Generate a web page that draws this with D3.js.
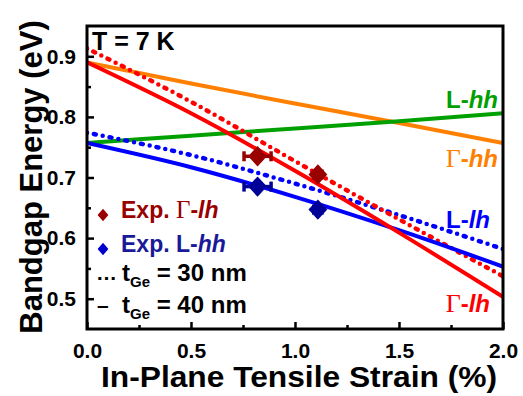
<!DOCTYPE html>
<html>
<head>
<meta charset="utf-8">
<script src="https://cdn.jsdelivr.net/npm/d3@7"></script>
<style>
  body { margin: 0; background: #fff; }
  svg text { font-family: "Liberation Sans", Arial, sans-serif; font-weight: bold; }
</style>
</head>
<body>
<svg id="chart" width="523" height="396"></svg>
<script>
// strain (%) sample points for the calculated curves
const strain = [0, 0.5, 1.0, 1.5, 2.0];
const gammaHH = [0.89, 0.855, 0.822, 0.79, 0.757];
const lHH = [0.757, 0.769, 0.781, 0.793, 0.806];
const gammaLH40 = [0.89, 0.806, 0.711, 0.609, 0.503];
const gammaLH30 = [0.913, 0.825, 0.727, 0.631, 0.537];
const lLH40 = [0.757, 0.717, 0.668, 0.613, 0.553];
const lLH30 = [0.774, 0.737, 0.69, 0.638, 0.582];

// experimental points: strain, energy, strain error
const expGammaLH = [[0.82, 0.735, 0.065], [1.11, 0.705, 0.02]];
const expLHH = [[0.82, 0.685, 0.065], [1.11, 0.647, 0.02]];

const xTicks = [0, 0.5, 1.0, 1.5, 2.0];
const yTicks = [0.5, 0.6, 0.7, 0.8, 0.9];

const svg = d3.select('#chart');
const pLeft = 87, pRight = 503, pTop = 26, pBottom = 329;

const x = d3.scaleLinear().domain([0, 2]).range([pLeft, pRight]);
const y = d3.scaleLinear().domain([0.45, 0.95]).range([pBottom, pTop]);

const line = d3.line()
  .x(d => x(d[0]))
  .y(d => y(d[1]))
  .curve(d3.curveMonotoneX);

const dotted = '0,7,2,7';
const curves = [
  { v: gammaHH, color: '#ff8000', dash: null },
  { v: lHH, color: '#00a000', dash: null },
  { v: lLH30, color: '#0000ff', dash: dotted },
  { v: gammaLH30, color: '#ff0000', dash: dotted },
  { v: lLH40, color: '#0000ff', dash: null },
  { v: gammaLH40, color: '#ff0000', dash: null },
];

const plot = svg.append('g');
plot.append('clipPath').attr('id', 'clip')
  .append('rect').attr('x', pLeft).attr('y', pTop).attr('width', pRight - pLeft).attr('height', pBottom - pTop);

const lines = plot.append('g').attr('clip-path', 'url(#clip)');
curves.forEach(c => {
  lines.append('path')
    .datum(strain.map((s, i) => [s, c.v[i]]))
    .attr('fill', 'none')
    .attr('stroke', c.color)
    .attr('stroke-width', c.dash ? 4.5 : 4)
    .attr('stroke-linecap', c.dash ? 'round' : 'butt')
    .attr('stroke-dasharray', c.dash)
    .attr('d', line);
});

// experimental points
const diamond = d3.symbol().type(d3.symbolDiamond);
function drawExp(data, color) {
  const g = plot.append('g');
  data.forEach(d => {
    const cx = x(d[0]), cy = y(d[1]);
    const x0 = x(d[0] - d[2]), x1 = x(d[0] + d[2]);
    g.append('line').attr('x1', x0).attr('x2', x1).attr('y1', cy).attr('y2', cy)
      .attr('stroke', color).attr('stroke-width', 3.5);
    [x0, x1].forEach(xx => g.append('line')
      .attr('x1', xx).attr('x2', xx).attr('y1', cy - 5).attr('y2', cy + 5)
      .attr('stroke', color).attr('stroke-width', 3.5));
    g.append('path').attr('d', diamond.size(120)())
      .attr('transform', `translate(${cx},${cy}) scale(1.6,1)`)
      .attr('fill', color);
  });
}
drawExp(expGammaLH, '#990000');
drawExp(expLHH, '#000099');

// axes with inward ticks
const xAxis = svg.append('g').attr('transform', `translate(0,${pBottom})`)
  .call(d3.axisBottom(x).tickValues(xTicks).tickSize(-7).tickFormat(d3.format('.1f')).tickPadding(14));
const yAxis = svg.append('g').attr('transform', `translate(${pLeft},0)`)
  .call(d3.axisLeft(y).tickValues(yTicks).tickSize(-7).tickFormat(d3.format('.1f')).tickPadding(11));

svg.append('g').attr('transform', `translate(0,${pBottom})`)
  .call(d3.axisBottom(x).tickValues([0.25, 0.75, 1.25, 1.75]).tickSize(-4).tickFormat(''));
svg.append('g').attr('transform', `translate(${pLeft},0)`)
  .call(d3.axisLeft(y).tickValues([0.55, 0.65, 0.75, 0.85]).tickSize(-4).tickFormat(''));

svg.selectAll('.domain').remove();
svg.selectAll('.tick line').attr('stroke', '#000').attr('stroke-width', 2.5);
[xAxis, yAxis].forEach(a => a.selectAll('.tick text')
  .attr('fill', '#000')
  .style('font-size', '21px'));

svg.append('rect')
  .attr('x', pLeft).attr('y', pTop).attr('width', pRight - pLeft).attr('height', pBottom - pTop)
  .attr('fill', 'none').attr('stroke', '#000').attr('stroke-width', 3);

// axis titles
svg.append('text')
  .attr('x', 299).attr('y', 387)
  .attr('text-anchor', 'middle')
  .attr('textLength', 396)
  .attr('lengthAdjust', 'spacingAndGlyphs')
  .style('font-size', '30px')
  .text('In-Plane Tensile Strain (%)');

svg.append('text')
  .attr('transform', 'translate(42,177) rotate(-90)')
  .attr('text-anchor', 'middle')
  .style('font-size', '31px')
  .text('Bandgap Energy (eV)');

svg.append('text')
  .attr('x', 92).attr('y', 50)
  .style('font-size', '25px')
  .text('T = 7 K');

// curve labels: [prefix, isGamma, italic suffix, color, x, y]
const serif = '"Liberation Serif", "Times New Roman", serif';
const curveLabels = [
  ['L', false, 'hh', '#00a000', 498, 108],
  ['\u0393', true, 'hh', '#ff8000', 498, 167],
  ['L', false, 'lh', '#0000ff', 490, 228],
  ['\u0393', true, 'lh', '#ff0000', 490, 312],
];
curveLabels.forEach(l => {
  const t = svg.append('text')
    .attr('x', l[4]).attr('y', l[5])
    .attr('text-anchor', 'end')
    .attr('fill', l[3])
    .style('font-size', '24px');
  t.append('tspan').text(l[0])
    .style('font-family', l[1] ? serif : null)
    .style('font-weight', l[1] ? 'normal' : null)
    .style('font-size', l[1] ? '26px' : null);
  t.append('tspan').text('-');
  t.append('tspan').text(l[2]).style('font-style', 'italic');
});

// legend
const legend = svg.append('g');
const expLegend = [
  ['#990000', '#990000', 'Exp. ', '\u0393', 'lh', 218],
  ['#0000cc', '#1a1a99', 'Exp. ', 'L', 'hh', 252],
];
expLegend.forEach(l => {
  legend.append('path').attr('d', diamond.size(45)())
    .attr('transform', `translate(103,${l[5] - 3}) scale(1.5,1)`)
    .attr('fill', l[0]);
  const t = legend.append('text').attr('x', 121).attr('y', l[5])
    .attr('fill', l[1]).style('font-size', '23px');
  t.append('tspan').text(l[2]);
  t.append('tspan').text(l[3])
    .style('font-family', l[3] === '\u0393' ? serif : null)
    .style('font-weight', l[3] === '\u0393' ? 'normal' : null)
    .style('font-size', l[3] === '\u0393' ? '25px' : null);
  t.append('tspan').text('-');
  t.append('tspan').text(l[4]).style('font-style', 'italic');
});

const thickLegend = [['\u2026', '30', 281], ['\u2013', '40', 313]];
thickLegend.forEach(l => {
  legend.append('text').attr('x', l[0] === '\u2026' ? 96 : 97).attr('y', l[2] - 1)
    .style('font-size', '21px').text(l[0]);
  const t = legend.append('text').attr('x', 122).attr('y', l[2])
    .style('font-size', '24px');
  t.append('tspan').text('t');
  t.append('tspan').text('Ge').attr('dy', 6).style('font-size', '15px');
  t.append('tspan').text(` = ${l[1]} nm`).attr('dy', -6);
});
</script>
</body>
</html>
